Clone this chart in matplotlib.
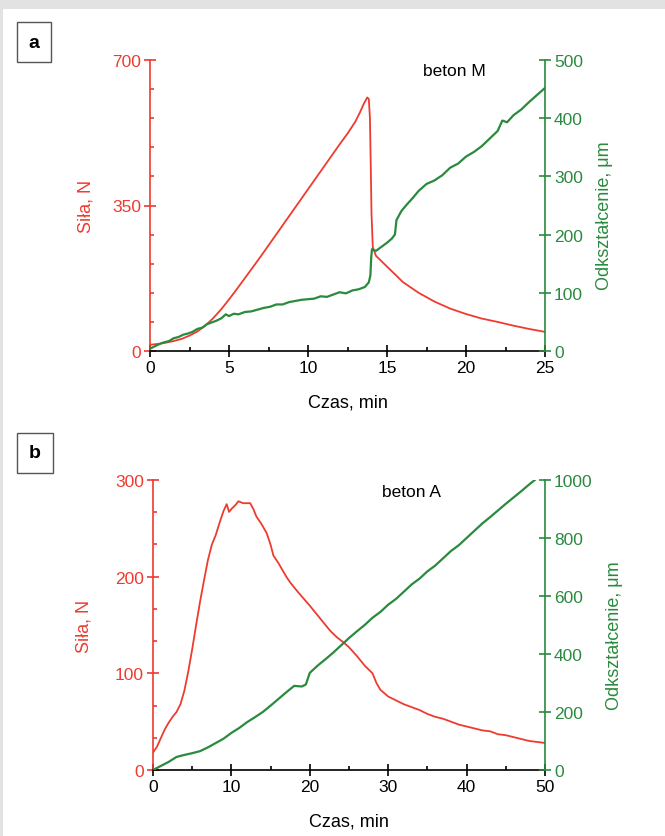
import matplotlib
matplotlib.use('Agg')
import matplotlib.pyplot as plt
from matplotlib.patches import Rectangle
from matplotlib.ticker import MultipleLocator

plt.rcParams['font.family'] = ['Liberation Sans', 'DejaVu Sans']

RED = '#ee3b2f'
GREEN = '#2a8a3e'

# panel a: beton M
a_force_t = [0, 0.5, 1, 1.5, 2, 2.5, 3, 3.5, 4, 4.5, 5, 5.5, 6, 6.5, 7, 7.5, 8, 8.5,
             9, 9.5, 10, 10.5, 11, 11.5, 12, 12.5, 13, 13.3, 13.55, 13.75, 13.85,
             13.92, 13.97, 14.02, 14.1, 14.3, 15, 15.6, 16, 17, 18, 19, 20, 21, 22,
             23, 24, 25]
a_force = [15, 17, 20, 24, 29, 37, 47, 61, 79, 100, 124, 149, 175, 201, 227, 254, 281,
           308, 335, 362, 389, 416, 443, 470, 497, 523, 552, 575, 596, 610, 606, 560,
           450, 330, 250, 229, 203, 181, 166, 140, 119, 102, 89, 78, 70, 61, 53, 46]

a_strain_t = [0.0, 0.3, 0.6, 0.9, 1.2, 1.5, 1.8, 2.1, 2.4, 2.7, 3.0, 3.3, 3.6, 3.9, 4.2,
              4.5, 4.8, 5.0, 5.3, 5.6, 6.0, 6.4, 6.8, 7.2, 7.6, 8.0, 8.4, 8.8, 9.2, 9.6,
              10.0, 10.4, 10.8, 11.2, 11.6, 12.0, 12.4, 12.8, 13.2, 13.6, 13.85, 13.95,
              14.0, 14.05, 14.3, 14.6, 15.0, 15.3, 15.5, 15.6, 15.9, 16.2, 16.6, 17.0,
              17.5, 18.0, 18.5, 19.0, 19.5, 20.0, 20.5, 21.0, 21.5, 22.0, 22.3, 22.6,
              23.0, 23.5, 24.0, 24.5, 25.0]
a_strain = [4, 8, 12, 15, 17, 22, 24, 28, 30, 33, 38, 40, 46, 49, 52, 56, 63, 60, 64, 63,
            67, 68, 71, 74, 76, 80, 80, 84, 86, 88, 89, 90, 94, 93, 97, 101, 99, 104, 106,
            110, 118, 130, 160, 175, 172, 178, 186, 193, 200, 225, 240, 250, 262, 275,
            287, 293, 302, 315, 322, 334, 342, 352, 365, 378, 396, 393, 405, 415, 428,
            440, 452]

# panel b: beton A
b_force_t = [0, 0.5, 1, 1.5, 2, 2.5, 3, 3.5, 4, 4.5, 5, 5.5, 6, 6.5, 7, 7.5, 8, 8.5, 9,
             9.4, 9.7, 10, 10.5, 10.9, 11.5, 12.4, 12.8, 13.2, 13.8, 14.5, 15, 15.35, 16,
             17, 17.5, 18.5, 20, 21, 22, 22.6, 23.5, 24.3, 25, 26, 27, 28, 28.5, 29, 30,
             31, 32, 33, 34, 35, 36, 37, 38, 39, 40, 41, 42, 43, 44, 45, 46, 47, 48, 49, 50]
b_force = [18, 24, 33, 42, 49, 55, 60, 68, 82, 102, 125, 150, 174, 196, 217, 233, 243,
           256, 268, 275, 267, 270, 274, 278, 276, 276, 270, 262, 255, 245, 233, 222, 214,
           200, 194, 184, 170, 160, 150, 144, 137, 132, 127, 118, 108, 100, 90, 83, 76,
           72, 68, 65, 62, 58, 55, 53, 50, 47, 45, 43, 41, 40, 37, 36, 34, 32, 30, 29, 28]

b_strain_t = [0, 1, 2, 3, 4, 5, 6, 7, 8, 9, 10, 11, 12, 13, 14, 15, 16, 17, 18, 19, 19.5,
              20, 21, 22, 23, 24, 25, 26, 27, 28, 29, 30, 31, 32, 33, 34, 35, 36, 37, 38,
              39, 40, 41, 42, 43, 44, 45, 46, 47, 48, 48.7]
b_strain = [0, 14, 28, 45, 52, 58, 65, 78, 93, 108, 128, 145, 165, 182, 200, 222, 245,
            268, 290, 288, 295, 335, 360, 382, 405, 430, 455, 478, 500, 525, 545, 570, 590,
            615, 640, 660, 685, 705, 730, 755, 775, 800, 825, 850, 872, 895, 918, 940, 962,
            985, 1000]

fig = plt.figure(figsize=(6.65, 8.37), dpi=100)
fig.patch.set_facecolor('#e2e2e2')
fig.patches.append(Rectangle((3 / 665, 0), 1, 1 - 10 / 837, transform=fig.transFigure,
                             facecolor='white', edgecolor='none', zorder=-10))


def draw_panel(rect, ft, f, st, s, xmax, xmaj, xmin, fmax, fmaj, fmin, smax, smaj, title, letter, letter_xy,
               title_xy, llabel_x, rlabel_x):
    ax = fig.add_axes(rect)
    ax.patch.set_alpha(0)
    ax.plot(ft, f, color=RED, lw=1.3)
    ax.set_xlim(0, xmax)
    ax.set_ylim(0, fmax)
    ax.xaxis.set_major_locator(MultipleLocator(xmaj))
    ax.xaxis.set_minor_locator(MultipleLocator(xmin))
    ax.yaxis.set_major_locator(MultipleLocator(fmaj))
    ax.yaxis.set_minor_locator(MultipleLocator(fmin))
    for sp in ['top', 'right']:
        ax.spines[sp].set_visible(False)
    ax.spines['left'].set_color(RED)
    ax.spines['bottom'].set_color('black')
    ax.spines['left'].set_linewidth(1.2)
    ax.spines['bottom'].set_linewidth(1.2)
    ax.tick_params(axis='x', which='major', direction='inout', length=9, width=1.2,
                   labelsize=12.5, pad=2)
    ax.tick_params(axis='x', which='minor', direction='in', length=3, width=1.2)
    ax.tick_params(axis='y', which='major', direction='inout', length=9, width=1.2,
                   color=RED, labelcolor=RED, labelsize=12.5, pad=2)
    ax.tick_params(axis='y', which='minor', direction='in', length=3, width=1.2, color=RED)
    ax.set_xlabel('Czas, min', fontsize=13)
    ax.xaxis.set_label_coords(0.5, -0.145)
    ax.set_ylabel('Siła, N', fontsize=13, color=RED)
    ax.yaxis.set_label_coords(llabel_x, 0.5)

    ax2 = ax.twinx()
    ax2.plot(st, s, color=GREEN, lw=1.6)
    ax2.set_ylim(0, smax)
    ax2.yaxis.set_major_locator(MultipleLocator(smaj))
    for sp in ['top', 'left', 'bottom']:
        ax2.spines[sp].set_visible(False)
    ax2.spines['right'].set_color(GREEN)
    ax2.spines['right'].set_linewidth(1.2)
    ax2.tick_params(axis='y', which='major', direction='inout', length=9, width=1.2,
                    color=GREEN, labelcolor=GREEN, labelsize=12.5, pad=2)
    ax2.set_ylabel('Odkształcenie, μm', fontsize=13, color=GREEN)
    ax2.yaxis.set_label_coords(rlabel_x, 0.467)

    ax.text(title_xy[0], title_xy[1], title, transform=ax.transAxes, fontsize=12.5,
            ha='center', va='center')
    fig.text(letter_xy[0], letter_xy[1], letter, fontsize=14, fontweight='bold',
             ha='center', va='center',
             bbox=dict(boxstyle='square,pad=0.6', facecolor='white', edgecolor='#555555', lw=1))


draw_panel([150 / 665, 1 - 352 / 837, 395 / 665, 291 / 837],
           a_force_t, a_force, a_strain_t, a_strain,
           25, 5, 2.5, 700, 350, 70, 500, 100,
           'beton M', 'a', (34 / 665, 1 - 43 / 837), (0.77, 0.965), -0.14, 1.13)
draw_panel([153 / 665, 1 - 771 / 837, 392 / 665, 290 / 837],
           b_force_t, b_force, b_strain_t, b_strain,
           50, 10, 5, 300, 100, 100 / 3, 1000, 200,
           'beton A', 'b', (35 / 665, 1 - 454 / 837), (0.66, 0.96), -0.155, 1.155)

fig.savefig('out.png', dpi=100, facecolor=fig.get_facecolor())
